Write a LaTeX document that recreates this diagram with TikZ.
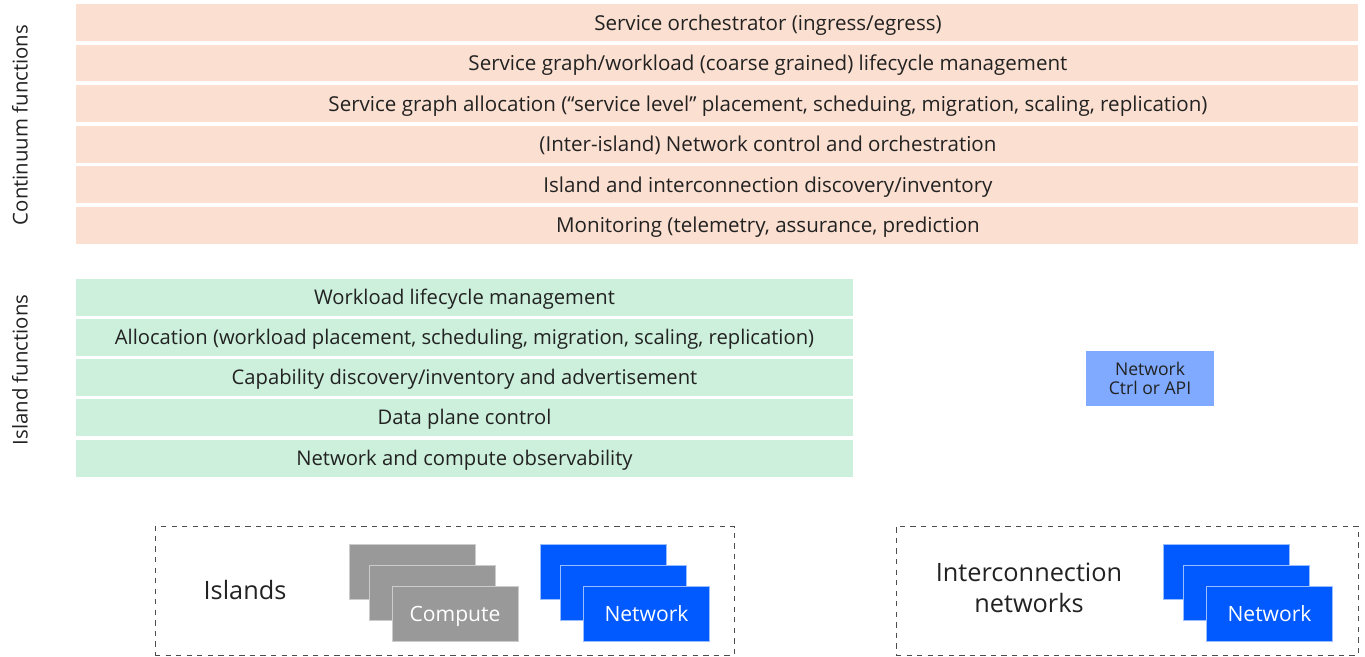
\documentclass[tikz,border=0pt]{standalone}
\usepackage{fontspec}
\setmainfont{Open Sans}
\begin{document}
\begin{tikzpicture}[
    x=0.02cm, y=-0.02cm,
    contbar/.style={rectangle, fill=contfill, minimum width=25.64cm, minimum height=0.74cm, inner sep=0pt, text centered, font=\fontsize{11.7}{14}\selectfont, text=textgray, text depth=0pt, execute at begin node=\hspace*{2.04cm}},
    islbar/.style={rectangle, fill=islfill, minimum width=15.54cm, minimum height=0.74cm, inner sep=0pt, text centered, font=\fontsize{11.5}{14}\selectfont, text=textgray, text depth=0pt},
    sidelabel/.style={rotate=90, font=\fontsize{11.6}{14}\selectfont, text=textgray},
    group/.style={rectangle, draw=black!70, dashed, thin, inner sep=0pt},
    computebox/.style={rectangle, fill=computefill, draw=white!80!black, line width=0.4pt, minimum width=2.52cm, minimum height=1.1cm, inner sep=0pt, text=white, font=\large, text depth=0pt},
    netbox/.style={rectangle, fill=netfill, draw=white!60!netfill, line width=0.4pt, minimum width=2.52cm, minimum height=1.1cm, inner sep=0pt, text=white, font=\large, text depth=0pt},
    ctrlbox/.style={rectangle, fill=ctrlfill, minimum width=2.56cm, minimum height=1.1cm, inner sep=0pt, align=center, font=\fontsize{10}{11}\selectfont, text=textgray}
]
\definecolor{contfill}{HTML}{FBDFD0}
\definecolor{islfill}{HTML}{CCF0DC}
\definecolor{computefill}{HTML}{999999}
\definecolor{netfill}{HTML}{005AFF}
\definecolor{ctrlfill}{HTML}{7FAAFF}
\definecolor{textgray}{HTML}{222222}

\useasboundingbox (0,0) rectangle (1365,656);

% Continuum functions
\node[sidelabel] (contlabel) at (20, 125) {Continuum functions};
\node[contbar] (orch) at (717, 22.5) {Service orchestrator (ingress/egress)};
\node[contbar] (lcm) at (717, 63) {Service graph/workload (coarse grained) lifecycle management};
\node[contbar] (alloc) at (717, 103.5) {Service graph allocation (“service level” placement, scheduing, migration, scaling, replication)};
\node[contbar] (netctrl) at (717, 144) {(Inter-island) Network control and orchestration};
\node[contbar] (discovery) at (717, 184.5) {Island and interconnection discovery/inventory};
\node[contbar] (monitor) at (717, 225) {Monitoring (telemetry, assurance, prediction};

% Island functions
\node[sidelabel] (isllabel) at (20, 370) {Island functions};
\node[islbar] (wlcm) at (464.5, 297) {Workload lifecycle management};
\node[islbar] (walloc) at (464.5, 337) {Allocation (workload placement, scheduling, migration, scaling, replication)};
\node[islbar] (capdisc) at (464.5, 377) {Capability discovery/inventory and advertisement};
\node[islbar] (dataplane) at (464.5, 417) {Data plane control};
\node[islbar] (observ) at (464.5, 458) {Network and compute observability};

\node[ctrlbox] (ctrl) at (1150, 378.5) {Network\\Ctrl or API};

% Islands
\node[group, minimum width=11.58cm, minimum height=2.58cm] (islands) at (444.5, 590.5) {};
\node[font=\Large, text=textgray] (islandstext) at (245, 590) {Islands};
\node[computebox] (comp1) at (412.5, 572) {};
\node[computebox] (comp2) at (432.5, 592.5) {};
\node[computebox] (comp3) at (455, 613.5) {Compute};
\node[netbox] (net1) at (603.5, 572) {};
\node[netbox] (net2) at (623.5, 592.5) {};
\node[netbox] (net3) at (646.5, 613.5) {Network};

% Interconnection networks
\node[group, minimum width=9.24cm, minimum height=2.58cm] (interconn) at (1127, 590.5) {};
\node[font=\Large, text=textgray, align=center] (interconntext) at (1029, 588) {Interconnection\\networks};
\node[netbox] (inet1) at (1226, 572) {};
\node[netbox] (inet2) at (1246.5, 592.5) {};
\node[netbox] (inet3) at (1269.5, 613.5) {Network};

\end{tikzpicture}
\end{document}
